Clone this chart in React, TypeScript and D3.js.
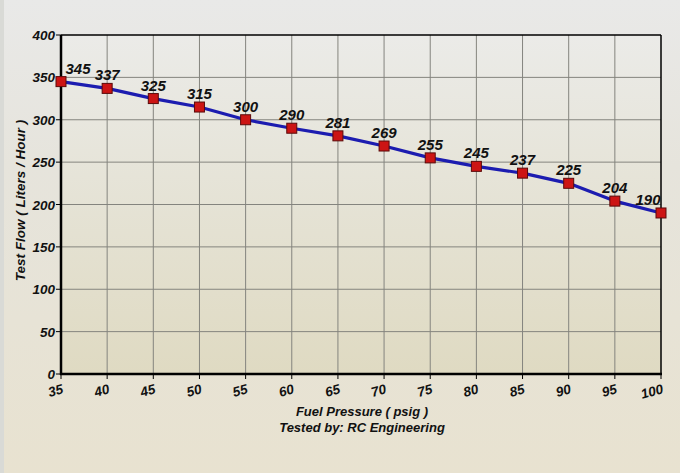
import React from "react";
import * as d3 from "d3";

const pressures = [35, 40, 45, 50, 55, 60, 65, 70, 75, 80, 85, 90, 95, 100];
const flows = [345, 337, 325, 315, 300, 290, 281, 269, 255, 245, 237, 225, 204, 190];
const yTicks = [0, 50, 100, 150, 200, 250, 300, 350, 400];
const xTitle = "Fuel Pressure ( psig )";
const subTitle = "Tested by: RC Engineering";
const yTitle = "Test Flow ( Liters / Hour )";

const W = 680, H = 473;
const M = { left: 61, right: 661, top: 35, bottom: 374 };
const font = "'Liberation Sans', Arial, sans-serif";

export default function App() {
  const x = d3.scaleLinear().domain([35, 100]).range([M.left, M.right]);
  const y = d3.scaleLinear().domain([0, 400]).range([M.bottom, M.top]);
  const line = d3.line<number>().x((_, i) => x(pressures[i])).y((d) => y(d));
  const pts = flows.map((f, i) => ({ p: pressures[i], f }));
  return (
    <svg width={W} height={H} style={{ position: "absolute", left: 0, top: 0 }}>
      <defs>
        <linearGradient id="bg" x1="0" y1="0" x2="0" y2="1">
          <stop offset="0" stopColor="#e9e9e8" />
          <stop offset="0.35" stopColor="#e6e4dc" />
          <stop offset="1" stopColor="#e8e2d0" />
        </linearGradient>
        <linearGradient id="plot" x1="0" y1="0" x2="0" y2="1">
          <stop offset="0" stopColor="#ebebe8" />
          <stop offset="1" stopColor="#dfdac2" />
        </linearGradient>
      </defs>
      <rect x={0} y={0} width={W} height={H} fill="url(#bg)" />
      <rect x={0} y={0} width={4} height={H} fill="#d9dad6" />
      <rect x={M.left} y={M.top} width={M.right - M.left} height={M.bottom - M.top} fill="url(#plot)" />
      {/* grid */}
      {yTicks.slice(1, -1).map((t) => (
        <line key={"gy" + t} x1={M.left} x2={M.right} y1={y(t)} y2={y(t)} stroke="#84847e" strokeWidth={1} />
      ))}
      {pressures.slice(1, -1).map((p) => (
        <line key={"gx" + p} x1={x(p)} x2={x(p)} y1={M.top} y2={M.bottom} stroke="#84847e" strokeWidth={1} />
      ))}
      {/* frame */}
      <line x1={M.left} x2={M.right} y1={M.top} y2={M.top} stroke="#000" strokeWidth={1.5} />
      <line x1={M.right} x2={M.right} y1={M.top} y2={M.bottom} stroke="#000" strokeWidth={1.5} />
      <line x1={M.left} x2={M.left} y1={M.top} y2={M.bottom + 1} stroke="#000" strokeWidth={2.5} />
      <line x1={M.left - 1} x2={M.right + 1} y1={M.bottom} y2={M.bottom} stroke="#000" strokeWidth={2.5} />
      {/* y ticks */}
      {yTicks.map((t) => (
        <g key={"yt" + t}>
          <line x1={M.left - 5} x2={M.left} y1={y(t)} y2={y(t)} stroke="#000" strokeWidth={1} />
          <text x={M.left - 6} y={y(t) + 5} textAnchor="end" fontFamily={font} fontWeight="bold" fontStyle="italic" fontSize={13.5} fill="#111">
            {t}
          </text>
        </g>
      ))}
      {/* x ticks */}
      {pressures.map((p) => (
        <g key={"xt" + p}>
          <line x1={x(p)} x2={x(p)} y1={M.bottom} y2={M.bottom + 5} stroke="#000" strokeWidth={1} />
          <text
            transform={`translate(${x(p) + 3},${M.bottom + 19}) rotate(-15)`}
            textAnchor="end"
            fontFamily={font}
            fontWeight="bold"
            fontStyle="italic"
            fontSize={13.5}
            fill="#111"
          >
            {p}
          </text>
        </g>
      ))}
      {/* titles */}
      <text x={362} y={416} textAnchor="middle" fontFamily={font} fontWeight="bold" fontStyle="italic" fontSize={13} fill="#111">
        {xTitle}
      </text>
      <text x={362} y={432} textAnchor="middle" fontFamily={font} fontWeight="bold" fontStyle="italic" fontSize={13} fill="#111">
        {subTitle}
      </text>
      <text transform={`translate(25,${(M.top + M.bottom) / 2 - 4}) rotate(-90)`} textAnchor="middle" fontFamily={font} fontWeight="bold" fontStyle="italic" fontSize={13.5} fill="#111">
        {yTitle}
      </text>
      {/* line */}
      <path d={line(flows) || ""} fill="none" stroke="#1c1cb0" strokeWidth={3.2} strokeLinejoin="round" />
      {pts.map((d) => (
        <rect key={"m" + d.p} x={x(d.p) - 5} y={y(d.f) - 5} width={10} height={10} fill="#cc1414" stroke="#5a0a0a" strokeWidth={1} />
      ))}
      {pts.map((d) => {
        const cx = Math.min(Math.max(x(d.p), M.left + 17), M.right - 13);
        return (
          <text key={"l" + d.p} x={cx} y={y(d.f) - 8} textAnchor="middle" fontFamily={font} fontWeight="bold" fontStyle="italic" fontSize={15} fill="#111">
            {d.f}
          </text>
        );
      })}
    </svg>
  );
}
